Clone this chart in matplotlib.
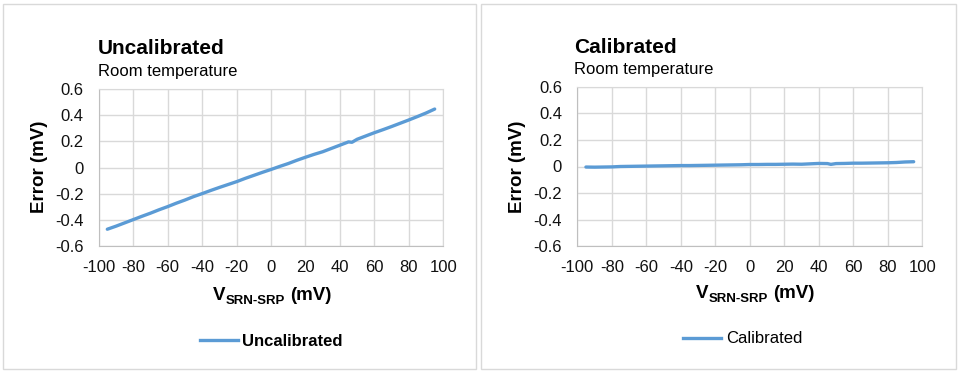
import matplotlib
matplotlib.use("Agg")
import matplotlib.pyplot as plt
from matplotlib.lines import Line2D
from matplotlib.patches import Rectangle

plt.rcParams['font.family'] = ['Liberation Sans', 'DejaVu Sans']
plt.rcParams['axes.unicode_minus'] = False

# --- data ---
v_in = [-95, -90, -85, -80, -75, -70, -65, -60, -55, -50, -45, -40, -35, -30,
        -25, -20, -15, -10, -5, 0, 5, 10, 15, 20, 25, 30, 35, 40, 45, 47,
        50, 55, 60, 65, 70, 75, 80, 85, 90, 95]
err_uncal = [-0.470, -0.447, -0.422, -0.397, -0.372, -0.348, -0.322, -0.298,
             -0.272, -0.248, -0.222, -0.199, -0.175, -0.152, -0.130, -0.108,
             -0.083, -0.060, -0.037, -0.015, 0.008, 0.030, 0.055, 0.078,
             0.100, 0.120, 0.145, 0.170, 0.195, 0.192, 0.215, 0.240, 0.265,
             0.288, 0.312, 0.337, 0.362, 0.388, 0.415, 0.445]
err_cal = [-0.004, -0.005, -0.004, -0.003, 0.000, 0.001, 0.002, 0.003, 0.004,
           0.005, 0.006, 0.007, 0.007, 0.008, 0.009, 0.010, 0.011, 0.012,
           0.013, 0.015, 0.015, 0.016, 0.016, 0.017, 0.018, 0.017, 0.020,
           0.023, 0.022, 0.016, 0.022, 0.023, 0.025, 0.025, 0.026, 0.027,
           0.028, 0.030, 0.034, 0.036]

x_ticks = [-100, -80, -60, -40, -20, 0, 20, 40, 60, 80, 100]
y_ticks = [-0.6, -0.4, -0.2, 0, 0.2, 0.4, 0.6]
y_tick_labels = ['-0.6', '-0.4', '-0.2', '0', '0.2', '0.4', '0.6']

BLUE = '#5b9bd5'
GRID = '#d9d9d9'
W, H = 959, 371


def fx(x):
    return x / W


def fy(y):
    return 1 - y / H


fig = plt.figure(figsize=(W / 100, H / 100), dpi=100)

panels = [
    dict(name='Uncalibrated', data=err_uncal, box=(3, 4, 476, 369),
         ax=(98.7, 88.7, 443.3, 246.3), title=(98, 54.5), sub=76,
         ylab=(39.5, 167), xlab=(213, 300.5), leg=(200, 238, 340, 242, 345.5),
         legbold=True),
    dict(name='Calibrated', data=err_cal, box=(481, 4, 956, 369),
         ax=(577.3, 86.7, 922.3, 246.3), title=(574, 53), sub=74,
         ylab=(517.5, 167), xlab=(696, 298), leg=(683, 721, 338, 726, 343),
         legbold=False),
]

for p in panels:
    # panel frame
    x0, y0, x1, y1 = p['box']
    fig.add_artist(Rectangle((fx(x0), fy(y1)), (x1 - x0) / W, (y1 - y0) / H,
                             transform=fig.transFigure, fill=False,
                             ec=GRID, lw=1))

    l, t, r, b = p['ax']
    ax = fig.add_axes([fx(l), fy(b), (r - l) / W, (b - t) / H])
    ax.plot(v_in, p['data'], color=BLUE, lw=2.4, solid_capstyle='round')
    ax.set_xlim(-100, 100)
    ax.set_ylim(-0.6, 0.6)
    ax.set_xticks(x_ticks)
    ax.set_xticklabels([str(v) for v in x_ticks])
    ax.set_yticks(y_ticks)
    ax.set_yticklabels(y_tick_labels)
    ax.tick_params(length=0, labelsize=12, labelcolor='#111111')
    ax.tick_params(axis='y', pad=11)
    ax.tick_params(axis='x', pad=10)
    ax.grid(True, color=GRID, lw=1)
    ax.set_axisbelow(True)
    for s in ax.spines.values():
        s.set_color(GRID)
    ax.spines['left'].set_color('#bfbfbf')
    ax.spines['bottom'].set_color('#bfbfbf')

    # titles
    tx, ty = p['title']
    fig.text(fx(tx), fy(ty), p['name'], fontsize=15, fontweight='bold',
             va='baseline', ha='left')
    fig.text(fx(tx), fy(p['sub']), 'Room temperature', fontsize=12,
             va='baseline', ha='left')

    # y label
    fig.text(fx(p['ylab'][0]), fy(p['ylab'][1]), 'Error (mV)', rotation=90,
             fontsize=13.5, fontweight='bold', ha='center', va='center')

    # x label with subscript
    lx, ly = p['xlab']
    t1 = fig.text(fx(lx), fy(ly), 'V', fontsize=13.5, fontweight='bold',
                  va='baseline', ha='left')
    t2 = ax.annotate('SRN-SRP', xy=(1, 0), xycoords=t1, fontsize=9.5,
                     fontweight='bold', va='baseline', ha='left',
                     annotation_clip=False)
    ax.annotate('(mV)', xy=(1, 0), xycoords=(t2, t1), xytext=(4, 0),
                textcoords='offset points', fontsize=13.5, fontweight='bold',
                va='bottom', ha='left', annotation_clip=False)

    # legend
    lx0, lx1, lyy, ltx, lty = p['leg']
    fig.add_artist(Line2D([fx(lx0), fx(lx1)], [fy(lyy), fy(lyy)],
                          transform=fig.transFigure, color=BLUE, lw=2.4))
    fig.text(fx(ltx), fy(lty), p['name'], fontsize=12,
             fontweight='bold' if p['legbold'] else 'normal',
             va='baseline', ha='left')

fig.savefig('out.png', dpi=100, facecolor='white')
